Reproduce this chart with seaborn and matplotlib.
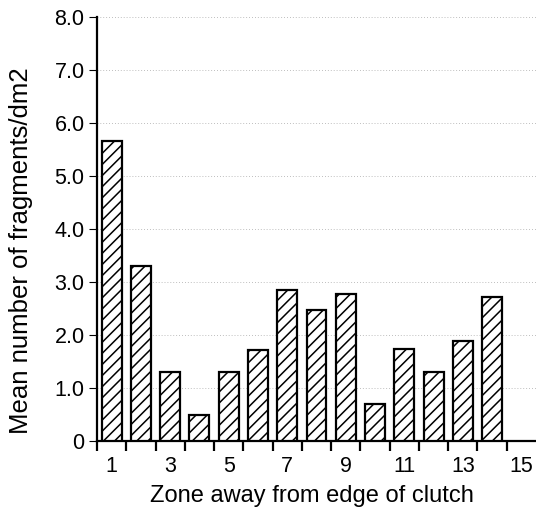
import matplotlib
matplotlib.use("Agg")
import matplotlib.pyplot as plt
import seaborn as sns
import pandas as pd
from matplotlib.ticker import FixedLocator, FuncFormatter

zones = list(range(1, 15))
means = [5.66, 3.30, 1.30, 0.49, 1.30, 1.72, 2.85, 2.47, 2.77, 0.70, 1.74, 1.30, 1.89, 2.72]
xtick_labels = [1, 3, 5, 7, 9, 11, 13, 15]
ytick_vals = [0, 1, 2, 3, 4, 5, 6, 7, 8]

sns.set_style("white")
plt.rcParams['font.family'] = ['Liberation Sans', 'DejaVu Sans']
plt.rcParams['hatch.linewidth'] = 1.1
for k in ["text.color", "axes.labelcolor", "xtick.color", "ytick.color"]:
    plt.rcParams[k] = "black"

df = pd.DataFrame({"zone": zones, "mean": means})

fig = plt.figure(figsize=(5.36, 5.13), dpi=100)
ax = fig.add_axes([0.181, 0.140, 0.819, 0.827])

sns.barplot(data=df, x="zone", y="mean", native_scale=True, width=0.68,
            color="white", edgecolor="black", linewidth=1.6, hatch="///",
            ax=ax, zorder=3)

ax.set_xlim(0.5, 15.5)
ax.set_ylim(0, 8)

ax.yaxis.set_major_locator(FixedLocator(ytick_vals))
ax.yaxis.set_major_formatter(FuncFormatter(lambda v, p: "0" if v == 0 else f"{v:.1f}"))
ax.tick_params(axis="y", which="major", length=6, width=0.8, pad=3, labelsize=15.5, left=True, color="black")

ax.xaxis.set_major_locator(FixedLocator(xtick_labels))
ax.set_xticklabels([str(v) for v in xtick_labels])
ax.xaxis.set_minor_locator(FixedLocator([z + 0.5 for z in range(0, 15)]))
ax.tick_params(axis="x", which="major", length=0, pad=11, labelsize=15.5)
ax.tick_params(axis="x", which="minor", length=7.5, width=1.6, bottom=True, color="black")

ax.grid(axis="y", linestyle=(0, (1, 2.5)), color="#a8a8a8", linewidth=0.6, zorder=0)
ax.grid(axis="x", visible=False)
ax.set_axisbelow(True)

for s in ["top", "right"]:
    ax.spines[s].set_visible(False)
for s in ["left", "bottom"]:
    ax.spines[s].set_linewidth(1.6)
    ax.spines[s].set_color("black")

ax.set_xlabel("Zone away from edge of clutch", fontsize=17)
ax.set_ylabel("Mean number of fragments/dm2", fontsize=18.5)
ax.xaxis.set_label_coords(0.489, -0.103)
ax.yaxis.set_label_coords(-0.146, 0.45)

fig.savefig("out.png", dpi=100)
